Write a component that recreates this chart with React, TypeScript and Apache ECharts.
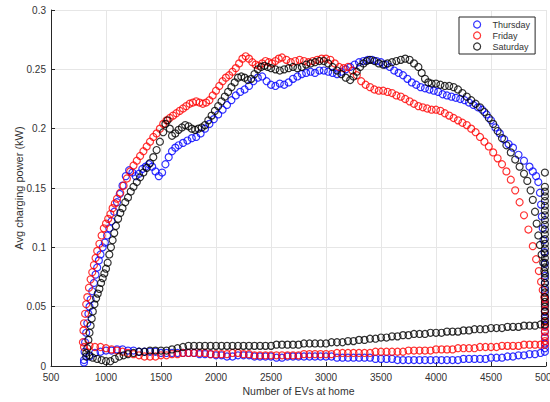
import React, { useEffect, useRef } from "react";
import * as echarts from "echarts";

const seriesNames = ["Thursday", "Friday", "Saturday"];
const seriesColors = ["#0000ff", "#ff0000", "#000000"];
const xTicks = [500, 5000, 500];
const yTicks = [0, 0.3, 0.05];

const thuUpper: [number, number][] = [
  [800, 0.005], [805, 0.012], [810, 0.02], [820, 0.028], [830, 0.036], [840, 0.044], [850, 0.05], [860, 0.056],
  [875, 0.063], [890, 0.07], [905, 0.077], [920, 0.083], [935, 0.089], [950, 0.094], [970, 0.1], [990, 0.104],
  [1010, 0.11], [1030, 0.116], [1050, 0.122], [1075, 0.13], [1100, 0.138], [1125, 0.145], [1150, 0.152], [1180, 0.16],
  [1210, 0.165], [1240, 0.163], [1270, 0.16], [1300, 0.162], [1330, 0.166], [1360, 0.168], [1390, 0.17], [1420, 0.168],
  [1450, 0.164], [1480, 0.16], [1510, 0.163], [1540, 0.17], [1570, 0.176], [1600, 0.181], [1630, 0.184], [1660, 0.186],
  [1700, 0.188], [1740, 0.19], [1780, 0.192], [1820, 0.193], [1860, 0.196], [1900, 0.2], [1940, 0.204], [1980, 0.208],
  [2020, 0.212], [2060, 0.216], [2100, 0.22], [2140, 0.224], [2180, 0.228], [2220, 0.231], [2260, 0.233], [2300, 0.236],
  [2340, 0.24], [2380, 0.243], [2420, 0.244], [2460, 0.24], [2500, 0.237], [2540, 0.236], [2580, 0.238], [2620, 0.237],
  [2660, 0.239], [2700, 0.242], [2740, 0.244], [2780, 0.246], [2820, 0.247], [2860, 0.248], [2900, 0.247], [2940, 0.249],
  [2980, 0.249], [3020, 0.248], [3060, 0.247], [3100, 0.246], [3140, 0.248], [3180, 0.25], [3220, 0.252], [3260, 0.254],
  [3300, 0.256], [3340, 0.257], [3380, 0.258], [3420, 0.258], [3460, 0.257], [3500, 0.256], [3540, 0.254], [3580, 0.252],
  [3620, 0.249], [3660, 0.247], [3700, 0.245], [3740, 0.242], [3780, 0.239], [3820, 0.237], [3860, 0.235], [3900, 0.234],
  [3940, 0.233], [3980, 0.232], [4020, 0.231], [4060, 0.229], [4100, 0.228], [4140, 0.227], [4180, 0.226], [4220, 0.225],
  [4260, 0.224], [4300, 0.222], [4340, 0.22], [4380, 0.218], [4420, 0.216], [4460, 0.212], [4500, 0.207], [4540, 0.201],
  [4580, 0.196], [4620, 0.191], [4660, 0.187], [4700, 0.184], [4750, 0.178], [4800, 0.173], [4850, 0.168], [4880, 0.164],
  [4910, 0.16], [4930, 0.155], [4945, 0.146], [4955, 0.136], [4962, 0.126], [4970, 0.116], [4978, 0.106], [4985, 0.096],
  [4988, 0.086], [4990, 0.076]
];
const thuLower: [number, number][] = [
  [800, 0.003], [850, 0.008], [900, 0.011], [950, 0.012], [1000, 0.013], [1050, 0.013], [1100, 0.014], [1150, 0.014],
  [1200, 0.013], [1250, 0.013], [1300, 0.012], [1350, 0.012], [1400, 0.012], [1450, 0.012], [1500, 0.011], [1550, 0.011],
  [1600, 0.011], [1650, 0.011], [1700, 0.011], [1750, 0.011], [1800, 0.011], [1850, 0.01], [1900, 0.01], [1950, 0.01],
  [2000, 0.009], [2050, 0.009], [2100, 0.008], [2150, 0.008], [2200, 0.009], [2250, 0.009], [2300, 0.009], [2350, 0.008],
  [2400, 0.008], [2450, 0.008], [2500, 0.008], [2550, 0.007], [2600, 0.007], [2650, 0.008], [2700, 0.008], [2750, 0.008],
  [2800, 0.008], [2850, 0.008], [2900, 0.008], [2950, 0.008], [3000, 0.008], [3050, 0.008], [3100, 0.007], [3150, 0.007],
  [3200, 0.007], [3250, 0.007], [3300, 0.007], [3350, 0.007], [3400, 0.007], [3450, 0.006], [3500, 0.006], [3550, 0.006],
  [3600, 0.006], [3650, 0.005], [3700, 0.005], [3750, 0.005], [3800, 0.005], [3850, 0.005], [3900, 0.005], [3950, 0.005],
  [4000, 0.005], [4050, 0.005], [4100, 0.005], [4150, 0.005], [4200, 0.005], [4250, 0.006], [4300, 0.006], [4350, 0.006],
  [4400, 0.006], [4450, 0.006], [4500, 0.007], [4550, 0.007], [4600, 0.007], [4650, 0.008], [4700, 0.008], [4750, 0.009],
  [4800, 0.009], [4850, 0.01], [4900, 0.01], [4950, 0.011], [4990, 0.012]
];
const thuEnd: [number, number][] = [
  [4990, 0.015], [4990, 0.019], [4990, 0.024], [4990, 0.029], [4990, 0.034], [4990, 0.04], [4990, 0.046], [4990, 0.052],
  [4990, 0.058], [4990, 0.064], [4990, 0.07]
];

const friUpper: [number, number][] = [
  [790, 0.02], [795, 0.03], [800, 0.036], [810, 0.044], [820, 0.052], [830, 0.058], [845, 0.066], [860, 0.073],
  [875, 0.079], [890, 0.085], [905, 0.091], [920, 0.097], [940, 0.103], [960, 0.11], [980, 0.116], [1000, 0.12],
  [1020, 0.124], [1040, 0.128], [1060, 0.133], [1080, 0.137], [1100, 0.141], [1130, 0.146], [1160, 0.152], [1190, 0.158],
  [1220, 0.164], [1250, 0.169], [1280, 0.173], [1310, 0.177], [1340, 0.181], [1370, 0.185], [1400, 0.189], [1430, 0.193],
  [1460, 0.196], [1490, 0.2], [1520, 0.204], [1550, 0.207], [1580, 0.209], [1610, 0.211], [1640, 0.213], [1670, 0.215],
  [1700, 0.217], [1730, 0.219], [1760, 0.221], [1790, 0.222], [1820, 0.223], [1850, 0.222], [1880, 0.221], [1910, 0.222],
  [1940, 0.224], [1970, 0.228], [2000, 0.232], [2030, 0.236], [2060, 0.24], [2090, 0.243], [2120, 0.245], [2150, 0.248],
  [2180, 0.251], [2210, 0.255], [2240, 0.259], [2270, 0.261], [2300, 0.259], [2330, 0.256], [2360, 0.254], [2390, 0.253],
  [2420, 0.255], [2450, 0.257], [2480, 0.256], [2510, 0.255], [2540, 0.257], [2570, 0.259], [2600, 0.26], [2640, 0.258],
  [2680, 0.256], [2720, 0.257], [2760, 0.258], [2800, 0.257], [2840, 0.256], [2880, 0.257], [2920, 0.258], [2960, 0.259],
  [3000, 0.259], [3040, 0.258], [3080, 0.255], [3120, 0.252], [3160, 0.251], [3200, 0.252], [3240, 0.249], [3280, 0.245],
  [3320, 0.24], [3360, 0.237], [3400, 0.235], [3440, 0.233], [3480, 0.232], [3520, 0.232], [3560, 0.231], [3600, 0.23],
  [3640, 0.228], [3680, 0.227], [3720, 0.225], [3760, 0.223], [3800, 0.221], [3840, 0.219], [3880, 0.218], [3920, 0.217],
  [3960, 0.216], [4000, 0.216], [4040, 0.215], [4080, 0.213], [4120, 0.211], [4160, 0.209], [4200, 0.207], [4240, 0.205],
  [4280, 0.203], [4320, 0.2], [4360, 0.197], [4400, 0.193], [4440, 0.189], [4480, 0.185], [4520, 0.18], [4560, 0.175],
  [4600, 0.17], [4640, 0.164], [4680, 0.157], [4720, 0.148], [4760, 0.138], [4800, 0.127], [4840, 0.115], [4880, 0.101],
  [4910, 0.09], [4935, 0.08], [4955, 0.071], [4970, 0.064], [4985, 0.058]
];
const friLower: [number, number][] = [
  [800, 0.016], [850, 0.017], [900, 0.016], [950, 0.016], [1000, 0.015], [1050, 0.014], [1100, 0.013], [1150, 0.012],
  [1200, 0.011], [1250, 0.01], [1300, 0.009], [1350, 0.008], [1400, 0.008], [1450, 0.008], [1500, 0.009], [1550, 0.009],
  [1600, 0.01], [1650, 0.01], [1700, 0.011], [1750, 0.011], [1800, 0.011], [1850, 0.011], [1900, 0.011], [1950, 0.01],
  [2000, 0.01], [2050, 0.01], [2100, 0.01], [2150, 0.011], [2200, 0.011], [2250, 0.01], [2300, 0.01], [2350, 0.009],
  [2400, 0.009], [2450, 0.009], [2500, 0.009], [2550, 0.009], [2600, 0.009], [2650, 0.009], [2700, 0.009], [2750, 0.009],
  [2800, 0.01], [2850, 0.01], [2900, 0.01], [2950, 0.01], [3000, 0.01], [3050, 0.01], [3100, 0.011], [3150, 0.011],
  [3200, 0.011], [3250, 0.011], [3300, 0.011], [3350, 0.011], [3400, 0.011], [3450, 0.012], [3500, 0.012], [3550, 0.012],
  [3600, 0.012], [3650, 0.012], [3700, 0.012], [3750, 0.013], [3800, 0.013], [3850, 0.013], [3900, 0.013], [3950, 0.013],
  [4000, 0.014], [4050, 0.014], [4100, 0.014], [4150, 0.014], [4200, 0.015], [4250, 0.015], [4300, 0.015], [4350, 0.015],
  [4400, 0.016], [4450, 0.016], [4500, 0.016], [4550, 0.016], [4600, 0.017], [4650, 0.017], [4700, 0.017], [4750, 0.017],
  [4800, 0.018], [4850, 0.018], [4900, 0.018], [4950, 0.018], [4990, 0.018]
];
const friEnd: [number, number][] = [
  [4990, 0.021], [4990, 0.025], [4990, 0.029], [4990, 0.033], [4990, 0.037], [4990, 0.042], [4990, 0.047], [4990, 0.052],
  [4990, 0.056]
];

const satUpper: [number, number][] = [
  [820, 0.008], [830, 0.015], [840, 0.022], [850, 0.028], [860, 0.034], [870, 0.04], [880, 0.046], [895, 0.052],
  [910, 0.057], [925, 0.061], [940, 0.065], [955, 0.07], [970, 0.074], [985, 0.078], [1000, 0.082], [1015, 0.087],
  [1030, 0.094], [1045, 0.1], [1060, 0.106], [1075, 0.112], [1090, 0.118], [1110, 0.124], [1130, 0.129], [1150, 0.133],
  [1175, 0.138], [1200, 0.142], [1225, 0.147], [1250, 0.151], [1280, 0.155], [1310, 0.159], [1340, 0.163], [1370, 0.167],
  [1400, 0.171], [1430, 0.176], [1460, 0.182], [1490, 0.189], [1520, 0.197], [1540, 0.204], [1560, 0.207], [1580, 0.2],
  [1600, 0.194], [1630, 0.196], [1660, 0.199], [1690, 0.201], [1720, 0.203], [1750, 0.202], [1780, 0.2], [1810, 0.199],
  [1840, 0.2], [1870, 0.201], [1900, 0.203], [1930, 0.207], [1960, 0.211], [1990, 0.215], [2020, 0.219], [2050, 0.223],
  [2080, 0.227], [2110, 0.231], [2140, 0.235], [2170, 0.239], [2200, 0.243], [2230, 0.244], [2260, 0.243], [2290, 0.241],
  [2320, 0.242], [2350, 0.246], [2380, 0.25], [2410, 0.252], [2440, 0.253], [2470, 0.252], [2500, 0.251], [2540, 0.25],
  [2580, 0.249], [2620, 0.25], [2660, 0.251], [2700, 0.252], [2740, 0.251], [2780, 0.252], [2820, 0.254], [2860, 0.255],
  [2900, 0.256], [2940, 0.257], [2980, 0.257], [3020, 0.255], [3060, 0.252], [3100, 0.249], [3140, 0.246], [3180, 0.243],
  [3220, 0.241], [3250, 0.244], [3280, 0.248], [3310, 0.252], [3340, 0.255], [3370, 0.257], [3400, 0.258], [3440, 0.257],
  [3480, 0.255], [3520, 0.254], [3560, 0.255], [3600, 0.256], [3640, 0.257], [3680, 0.258], [3720, 0.259], [3760, 0.258],
  [3800, 0.255], [3840, 0.252], [3870, 0.247], [3900, 0.242], [3930, 0.239], [3960, 0.238], [4000, 0.238], [4040, 0.237],
  [4080, 0.236], [4120, 0.236], [4160, 0.235], [4200, 0.233], [4240, 0.23], [4280, 0.227], [4320, 0.224], [4360, 0.221],
  [4400, 0.218], [4440, 0.214], [4480, 0.209], [4520, 0.204], [4560, 0.198], [4600, 0.192], [4640, 0.186], [4680, 0.18],
  [4720, 0.174], [4760, 0.168], [4800, 0.162], [4830, 0.156], [4860, 0.148], [4880, 0.14], [4900, 0.13], [4915, 0.12],
  [4930, 0.11], [4945, 0.102], [4960, 0.094], [4975, 0.087], [4985, 0.08]
];
const satLower: [number, number][] = [
  [820, 0.011], [850, 0.009], [880, 0.007], [920, 0.006], [960, 0.005], [1000, 0.004], [1040, 0.004], [1080, 0.006],
  [1120, 0.008], [1160, 0.009], [1200, 0.01], [1250, 0.011], [1300, 0.012], [1350, 0.012], [1400, 0.013], [1450, 0.013],
  [1500, 0.013], [1550, 0.013], [1600, 0.014], [1650, 0.015], [1700, 0.016], [1750, 0.017], [1800, 0.017], [1850, 0.017],
  [1900, 0.017], [1950, 0.017], [2000, 0.017], [2050, 0.017], [2100, 0.017], [2150, 0.017], [2200, 0.017], [2250, 0.017],
  [2300, 0.017], [2350, 0.017], [2400, 0.017], [2450, 0.017], [2500, 0.017], [2550, 0.018], [2600, 0.018], [2650, 0.018],
  [2700, 0.018], [2750, 0.018], [2800, 0.019], [2850, 0.019], [2900, 0.019], [2950, 0.019], [3000, 0.019], [3050, 0.02],
  [3100, 0.02], [3150, 0.02], [3200, 0.021], [3250, 0.021], [3300, 0.022], [3350, 0.022], [3400, 0.023], [3450, 0.023],
  [3500, 0.024], [3550, 0.024], [3600, 0.025], [3650, 0.025], [3700, 0.026], [3750, 0.026], [3800, 0.027], [3850, 0.027],
  [3900, 0.027], [3950, 0.028], [4000, 0.028], [4050, 0.028], [4100, 0.029], [4150, 0.029], [4200, 0.029], [4250, 0.03],
  [4300, 0.03], [4350, 0.031], [4400, 0.031], [4450, 0.031], [4500, 0.032], [4550, 0.032], [4600, 0.032], [4650, 0.033],
  [4700, 0.033], [4750, 0.033], [4800, 0.034], [4850, 0.034], [4900, 0.034], [4950, 0.035], [4990, 0.035]
];
const satEnd: [number, number][] = [
  [4990, 0.038], [4990, 0.042], [4990, 0.046], [4990, 0.05], [4990, 0.054], [4990, 0.058], [4990, 0.062], [4990, 0.066],
  [4990, 0.07], [4990, 0.074], [4990, 0.078], [4990, 0.083], [4990, 0.087], [4990, 0.091], [4990, 0.095], [4990, 0.099],
  [4990, 0.103], [4990, 0.107], [4990, 0.111], [4990, 0.115], [4990, 0.119], [4990, 0.123], [4990, 0.127], [4990, 0.131],
  [4990, 0.135], [4990, 0.139], [4990, 0.143], [4990, 0.147], [4990, 0.151], [4990, 0.163]
];

const seriesData = [
  [...thuLower, ...thuUpper, ...thuEnd],
  [...friLower, ...friUpper, ...friEnd],
  [...satLower, ...satUpper, ...satEnd],
];

const FONT = "'Liberation Sans', Arial, Helvetica, sans-serif";
const AXIS_COLOR = "#262626";
const TEXT_COLOR = "#333333";

export default function App() {
  const ref = useRef<HTMLDivElement>(null);
  useEffect(() => {
    if (!ref.current) return;
    const chart = echarts.init(ref.current, undefined, { renderer: "svg" });
    chart.setOption({
      animation: false,
      backgroundColor: "#ffffff",
      textStyle: { fontFamily: FONT },
      grid: { left: 51, right: 4, top: 10, bottom: 36, containLabel: false, outerBoundsMode: "none" },
      legend: {
        orient: "vertical",
        left: 459,
        top: 17,
        data: seriesNames,
        icon: "circle",
        itemWidth: 7,
        itemHeight: 7,
        itemGap: 2,
        padding: [3, 5, 3, 14],
        backgroundColor: "#ffffff",
        borderColor: AXIS_COLOR,
        borderWidth: 1,
        borderRadius: 0,
        itemStyle: { borderWidth: 1.2 },
        textStyle: { fontFamily: FONT, fontSize: 9, color: TEXT_COLOR, padding: [0, 0, 0, 7] },
      },
      xAxis: {
        type: "value",
        min: xTicks[0],
        max: xTicks[1],
        interval: xTicks[2],
        name: "Number of EVs at home",
        nameLocation: "middle",
        nameGap: 19,
        nameMoveOverlap: false,
        nameTextStyle: { fontFamily: FONT, fontSize: 10.5, color: TEXT_COLOR },
        axisLine: { show: true, onZero: false, lineStyle: { color: AXIS_COLOR, width: 1 } },
        axisTick: { show: true, inside: true, length: 4, lineStyle: { color: AXIS_COLOR } },
        axisLabel: {
          fontFamily: FONT,
          fontSize: 10,
          color: TEXT_COLOR,
          margin: 6,
          showMaxLabel: true,
          hideOverlap: false,
          formatter: (v: number) => String(v),
        },
        splitLine: { show: true, lineStyle: { color: "#e6e6e6", width: 1 } },
      },
      yAxis: {
        type: "value",
        min: yTicks[0],
        max: yTicks[1],
        interval: yTicks[2],
        name: "Avg charging power (kW)",
        nameLocation: "middle",
        nameGap: 27,
        nameMoveOverlap: false,
        nameTextStyle: { fontFamily: FONT, fontSize: 11, color: TEXT_COLOR },
        axisLine: { show: true, onZero: false, lineStyle: { color: AXIS_COLOR, width: 1 } },
        axisTick: { show: true, inside: true, length: 4, lineStyle: { color: AXIS_COLOR } },
        axisLabel: {
          fontFamily: FONT,
          fontSize: 10,
          color: TEXT_COLOR,
          margin: 5,
          formatter: (v: number) => String(parseFloat(v.toFixed(2))),
        },
        splitLine: { show: true, lineStyle: { color: "#e6e6e6", width: 1 } },
      },
      series: seriesNames.map((name, i) => ({
        name,
        type: "scatter",
        symbol: "circle",
        symbolSize: 7,
        clip: false,
        data: seriesData[i],
        itemStyle: { color: "rgba(0,0,0,0)", borderColor: seriesColors[i], borderWidth: 1.2 },
        emphasis: { disabled: true },
      })),
    });
    return () => chart.dispose();
  }, []);
  return (
    <div
      ref={ref}
      style={{ position: "absolute", left: 0, top: 0, width: 550, height: 402, background: "#fff" }}
    />
  );
}
